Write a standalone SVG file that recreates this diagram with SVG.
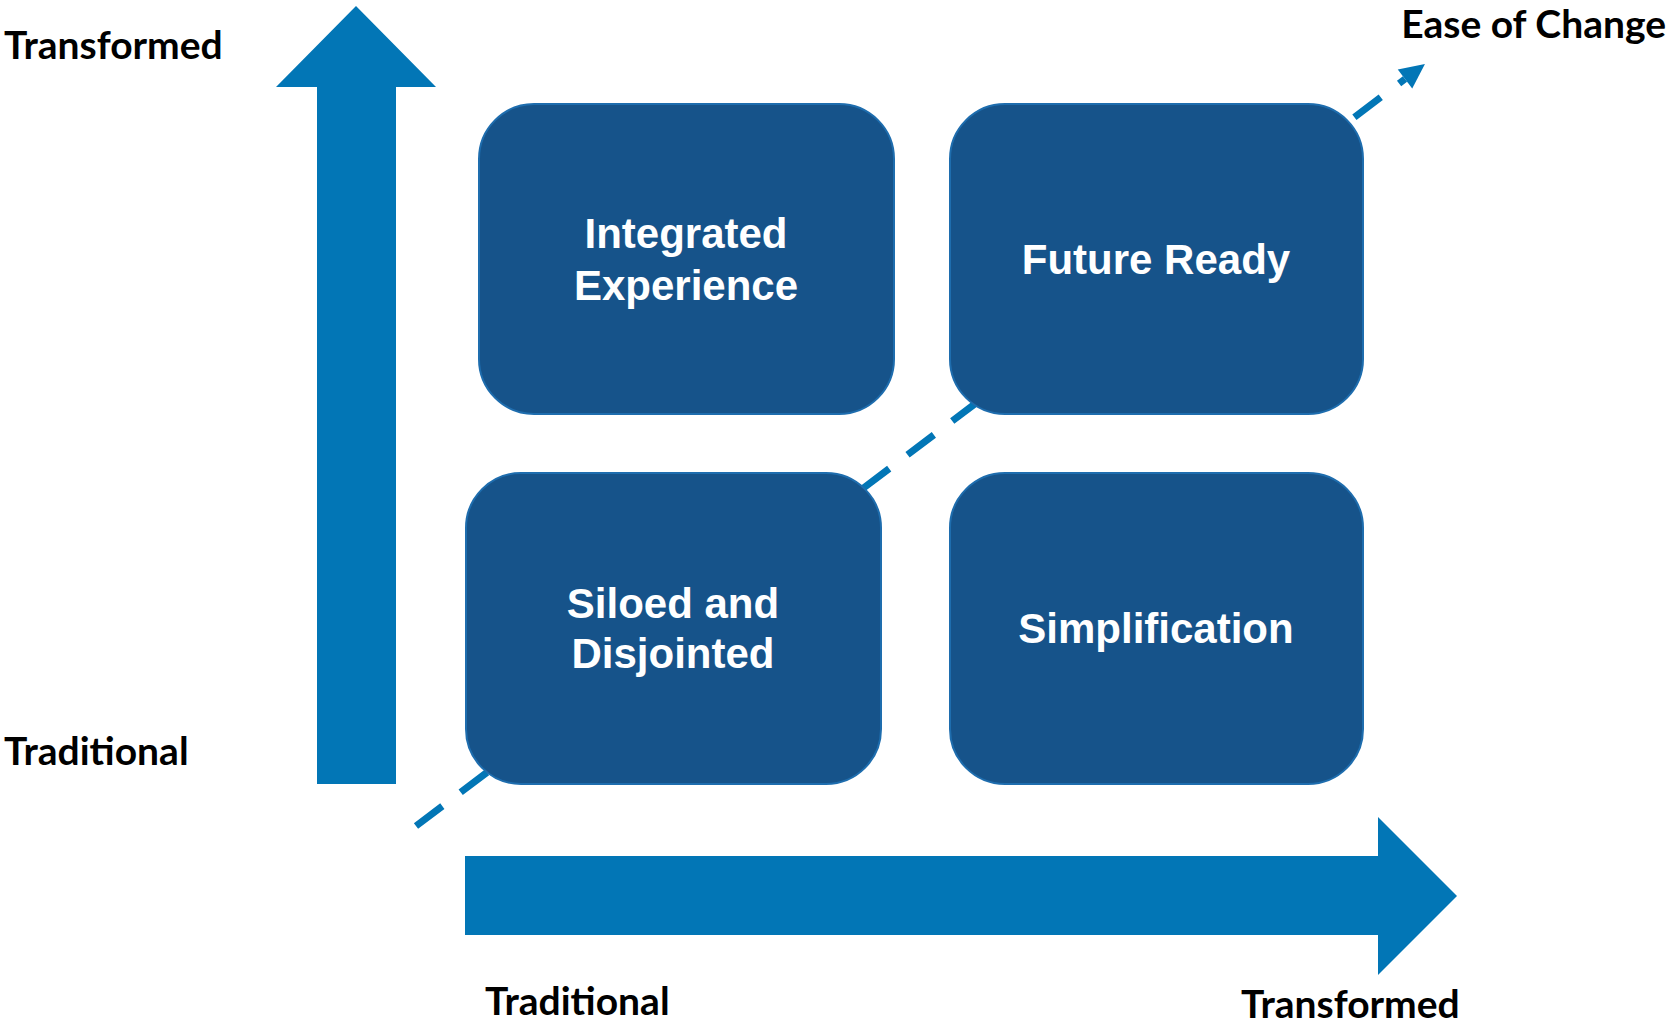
<svg xmlns="http://www.w3.org/2000/svg" width="1671" height="1028" viewBox="0 0 1671 1028">
  <style>
    .axis { fill: #0276B6; }
    .box { fill: #16538A; stroke: #1E6DAE; stroke-width: 2; }
    .boxtext { font-family: "Liberation Sans", Arial, sans-serif; font-weight: bold; font-size: 42px; fill: #FFFFFF; text-anchor: middle; }
    .label { font-family: Lato, "Liberation Sans", sans-serif; font-weight: bold; font-size: 39px; fill: #000000; }
    .diag { fill: none; stroke: #0276B6; stroke-width: 7; stroke-dasharray: 33 23; }
  </style>
  <defs>
    <marker id="head" markerUnits="userSpaceOnUse" markerWidth="30" markerHeight="30" viewBox="0 -15 30 30" refX="0" refY="0" orient="auto" overflow="visible">
      <path d="M0,-12 L25,0 L0,12 Z" fill="#0276B6"/>
    </marker>
  </defs>
  <rect width="1671" height="1028" fill="#FFFFFF"/>

  <g id="connectors">
    <path id="ease-line" class="diag" d="M416,826 L1405,79" marker-end="url(#head)"/>
  </g>

  <g id="axes">
    <polygon id="y-axis" class="axis" points="356,6 436,87 396,87 396,784 317,784 317,87 276,87"/>
    <polygon id="x-axis" class="axis" points="465,856 1378,856 1378,817 1457,896 1378,975 1378,935 465,935"/>
  </g>

  <g id="node-integrated">
    <rect class="box" x="479" y="104" width="415" height="310" rx="55" ry="55"/>
    <text class="boxtext" x="686" y="248">Integrated</text>
    <text class="boxtext" x="686" y="300">Experience</text>
  </g>
  <g id="node-future">
    <rect class="box" x="950" y="104" width="413" height="310" rx="55" ry="55"/>
    <text class="boxtext" x="1156" y="274">Future Ready</text>
  </g>
  <g id="node-siloed">
    <rect class="box" x="466" y="473" width="415" height="311" rx="55" ry="55"/>
    <text class="boxtext" x="673" y="618">Siloed and</text>
    <text class="boxtext" x="673" y="668">Disjointed</text>
  </g>
  <g id="node-simplification">
    <rect class="box" x="950" y="473" width="413" height="311" rx="55" ry="55"/>
    <text class="boxtext" x="1156" y="643">Simplification</text>
  </g>

  <g id="labels">
    <text class="label" x="4" y="59">Transformed</text>
    <text class="label" x="4" y="765">Traditional</text>
    <text class="label" x="485" y="1015">Traditional</text>
    <text class="label" x="1241" y="1018">Transformed</text>
    <text class="label" x="1666" y="38" text-anchor="end">Ease of Change</text>
  </g>
</svg>
